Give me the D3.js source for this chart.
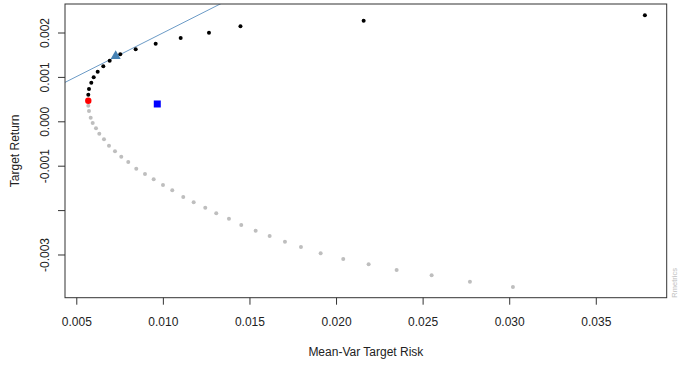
<!DOCTYPE html>
<html>
<head>
<meta charset="utf-8">
<script src="https://cdn.jsdelivr.net/npm/d3@7"></script>
<style>
  html, body { margin: 0; padding: 0; background: #ffffff; }
  svg { display: block; font-family: "Liberation Sans", Arial, sans-serif; }
</style>
</head>
<body>
<svg id="chart" width="678" height="367"></svg>
<script>
// Efficient frontier (upper branch, from minimum-variance point upward): risk, return
const efficientRisk = [0.005693, 0.005733, 0.005866, 0.006005, 0.006236, 0.006559, 0.006928,
  0.007540, 0.008430, 0.009584, 0.011028, 0.012662, 0.014480, 0.021594, 0.037835];
const efficientReturn = [0.000599, 0.000727, 0.000869, 0.000991, 0.001117, 0.001239, 0.001365,
  0.001509, 0.001622, 0.001748, 0.001876, 0.001995, 0.002140, 0.002266, 0.002387];

// Inefficient (lower) branch of the frontier
const inefficientRisk = [0.005693, 0.005733, 0.005831, 0.005947, 0.006137, 0.006328, 0.006599,
  0.006888, 0.007234, 0.007598, 0.008002, 0.008464, 0.008967, 0.009469, 0.010006, 0.010543,
  0.011178, 0.011778, 0.012448, 0.013083, 0.013816, 0.014527, 0.015358, 0.016166, 0.017050,
  0.017974, 0.019111, 0.020416, 0.021882, 0.023499, 0.025520, 0.027731, 0.030214];
const inefficientReturn = [0.000351, 0.000232, 0.000081, -0.000038, -0.000158, -0.000279, -0.000405,
  -0.000550, -0.000676, -0.000797, -0.000917, -0.001068, -0.001187, -0.001306, -0.001435, -0.001554,
  -0.001705, -0.001824, -0.001946, -0.002072, -0.002194, -0.002336, -0.002464, -0.002583, -0.002712,
  -0.002831, -0.002973, -0.003101, -0.003221, -0.003349, -0.003468, -0.003613, -0.003732];

// Special portfolios
const minVariancePoint = [0.005693, 0.000464];
const tangencyPoint = [0.007275, 0.001471];
const equalWeightsPoint = [0.009677, 0.000390];

// Capital market (tangency) line
const riskFree = 0.00002;
const tangencySlope = 0.197;

// Axis limits and ticks
const xLimits = [0.004348, 0.039095];
const yLimits = [-0.003973, 0.002642];
const xTicks = [0.005, 0.010, 0.015, 0.020, 0.025, 0.030, 0.035];
const xTickLabels = ["0.005", "0.010", "0.015", "0.020", "0.025", "0.030", "0.035"];
const yTicks = [-0.003, -0.002, -0.001, 0.000, 0.001, 0.002];
const yTickLabels = ["-0.003", "", "-0.001", "0.000", "0.001", "0.002"];

const xTitle = "Mean-Var Target Risk";
const yTitle = "Target Return";
const sideText = "Rmetrics";

const W = 678, H = 367;
const margin = { left: 65, top: 4, right: 11.3, bottom: 69.3 };
const plotW = W - margin.left - margin.right;
const plotH = H - margin.top - margin.bottom;

const svg = d3.select("#chart");
const g = svg.append("g").attr("transform", `translate(${margin.left},${margin.top})`);

const x = d3.scaleLinear().domain(xLimits).range([0, plotW]);
const y = d3.scaleLinear().domain(yLimits).range([plotH, 0]);

const axisColor = "#333";

// Clip for the plot region
svg.append("defs").append("clipPath").attr("id", "plotClip")
  .append("rect").attr("x", 0).attr("y", 0).attr("width", plotW).attr("height", plotH);

const plot = g.append("g").attr("clip-path", "url(#plotClip)");

// Tangency line
plot.append("line")
  .attr("x1", x(xLimits[0])).attr("y1", y(riskFree + tangencySlope * xLimits[0]))
  .attr("x2", x(xLimits[1])).attr("y2", y(riskFree + tangencySlope * xLimits[1]))
  .attr("stroke", "#5a8fc0").attr("stroke-width", 0.9);

// Inefficient frontier points
plot.selectAll("circle.ineff")
  .data(inefficientRisk.map((r, i) => [r, inefficientReturn[i]]))
  .join("circle").attr("class", "ineff")
  .attr("cx", d => x(d[0])).attr("cy", d => y(d[1]))
  .attr("r", 2).attr("fill", "#bebebe");

// Efficient frontier points
plot.selectAll("circle.eff")
  .data(efficientRisk.map((r, i) => [r, efficientReturn[i]]))
  .join("circle").attr("class", "eff")
  .attr("cx", d => x(d[0])).attr("cy", d => y(d[1]))
  .attr("r", 2).attr("fill", "#000");

// Minimum variance portfolio
plot.append("circle")
  .attr("cx", x(minVariancePoint[0])).attr("cy", y(minVariancePoint[1]))
  .attr("r", 3.2).attr("fill", "#ff0000");

// Tangency portfolio
plot.append("path")
  .attr("transform", `translate(${x(tangencyPoint[0])},${y(tangencyPoint[1])})`)
  .attr("d", d3.symbol().type(d3.symbolTriangle).size(44)())
  .attr("fill", "#4682b4");

// Equal weights portfolio
const sq = 7;
plot.append("rect")
  .attr("x", x(equalWeightsPoint[0]) - sq / 2).attr("y", y(equalWeightsPoint[1]) - sq / 2)
  .attr("width", sq).attr("height", sq).attr("fill", "#0000ff");

// Box
g.append("rect").attr("x", 0).attr("y", 0).attr("width", plotW).attr("height", plotH)
  .attr("fill", "none").attr("stroke", axisColor).attr("stroke-width", 1);

// X axis
const xAxis = g.append("g").attr("transform", `translate(0,${plotH})`)
  .call(d3.axisBottom(x).tickValues(xTicks).tickFormat((d, i) => xTickLabels[i]).tickSize(7));
xAxis.select(".domain").remove();
xAxis.selectAll(".tick line").attr("stroke", axisColor);
xAxis.selectAll(".tick text")
  .attr("y", 28).attr("dy", 0)
  .attr("font-size", 12).attr("fill", "#222")
  .attr("font-family", "Liberation Sans, Arial, sans-serif");

// Y axis
const yAxis = g.append("g")
  .call(d3.axisLeft(y).tickValues(yTicks).tickFormat((d, i) => yTickLabels[i]).tickSize(7));
yAxis.select(".domain").remove();
yAxis.selectAll(".tick line").attr("stroke", axisColor);
yAxis.selectAll(".tick text")
  .attr("x", 0).attr("y", 0).attr("dy", 0)
  .attr("transform", "translate(-16,0) rotate(-90)")
  .attr("text-anchor", "middle")
  .attr("font-size", 12).attr("fill", "#222")
  .attr("font-family", "Liberation Sans, Arial, sans-serif");

// Axis titles
svg.append("text")
  .attr("x", margin.left + plotW / 2).attr("y", 356)
  .attr("text-anchor", "middle").attr("font-size", 12).attr("fill", "#222")
  .text(xTitle);

svg.append("text")
  .attr("transform", `translate(19,${margin.top + plotH / 2}) rotate(-90)`)
  .attr("text-anchor", "middle").attr("font-size", 12).attr("fill", "#222")
  .text(yTitle);

// Side note
svg.append("text")
  .attr("transform", `translate(677,${margin.top + plotH}) rotate(-90)`)
  .attr("text-anchor", "start").attr("font-size", 7.5).attr("fill", "#bebebe")
  .text(sideText);
</script>
</body>
</html>
